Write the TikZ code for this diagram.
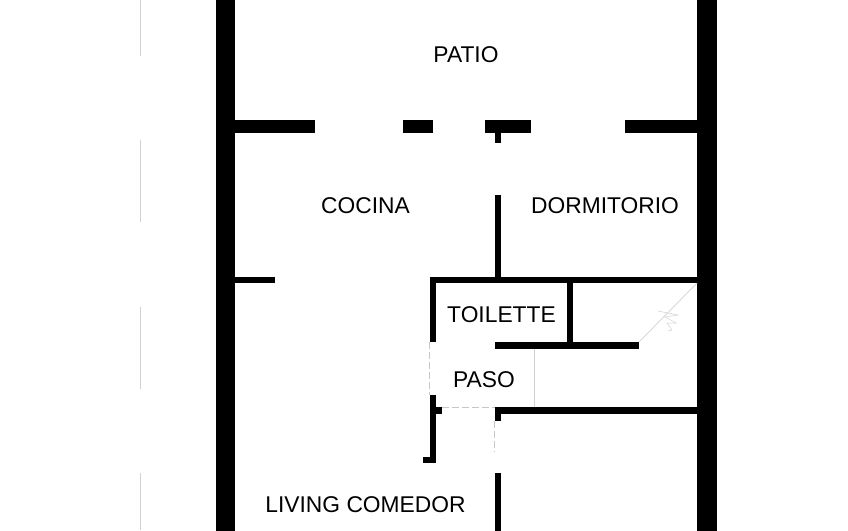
\documentclass[tikz,border=0pt]{standalone}
\usepackage{fontspec}
\setmainfont{Liberation Sans}
\tikzset{
  wall/.style={fill=black},
  thin line/.style={draw=black!18,line width=0.7pt},
  dash line/.style={draw=black!22,line width=0.7pt,dash pattern=on 7pt off 3pt},
  room/.style={font=\fontsize{22.8}{26}\selectfont,inner sep=0pt,text=black}
}
\begin{document}
\begin{tikzpicture}[x=1pt,y=-1pt]
\useasboundingbox (0,0) rectangle (848,530);
% outer walls
\path[wall] (215.8,-1) rectangle (235.2,531);
\path[wall] (696.8,-1) rectangle (716.8,531);
% patio wall
\path[wall] (235,119.5) rectangle (314.6,132.5);
\path[wall] (402.8,119.5) rectangle (432.8,132.5);
\path[wall] (484.8,119.5) rectangle (530.8,132.5);
\path[wall] (625,119.5) rectangle (697,132.5);
\path[wall] (494.8,132) rectangle (501.2,142.5);
% interior
\path[wall] (494.8,195) rectangle (501.2,277);
\path[wall] (429.6,276.5) rectangle (697,283);
\path[wall] (235,276.5) rectangle (274.8,283);
\path[wall] (429.6,283) rectangle (435.6,341.5);
\path[wall] (567,283) rectangle (573,342);
\path[wall] (494.8,342) rectangle (638.8,348.5);
\path[wall] (429.6,394.5) rectangle (435.6,463);
\path[wall] (422.6,457) rectangle (435.6,463);
\path[wall] (435.3,407) rectangle (442,413.5);
\path[wall] (494.8,407) rectangle (697,413.5);
\path[wall] (494.8,413) rectangle (501.2,420.5);
\path[wall] (494.8,473) rectangle (501.2,531);
% light lines
\draw[thin line] (534,348.5) -- (534,407);
\draw[thin line] (639,342) -- (697,283);
\draw[thin line,line width=0.5pt] (658,311) -- (678,315) -- (665,317) -- (676,323) -- (667,323) -- (672,330) -- (668,331);
\draw[dash line] (429.5,342) -- (429.5,394.5);
\draw[dash line] (442,407) -- (495,407);
\draw[dash line] (494.5,420.5) -- (494.5,452);
\draw[thin line] (140.5,0) -- (140.5,56);
\draw[thin line] (140.5,140) -- (140.5,222);
\draw[thin line] (140.5,307) -- (140.5,389);
\draw[thin line] (140.5,473) -- (140.5,530);
% labels
\node[room] (patio) at (466,54.7) {PATIO};
\node[room] (cocina) at (365.5,205.7) {COCINA};
\node[room] (dormitorio) at (605,205.7) {DORMITORIO};
\node[room] (toilette) at (501.5,314.2) {TOILETTE};
\node[room] (paso) at (484,379.7) {PASO};
\node[room] (living) at (365.5,504.2) {LIVING COMEDOR};
\end{tikzpicture}
\end{document}
